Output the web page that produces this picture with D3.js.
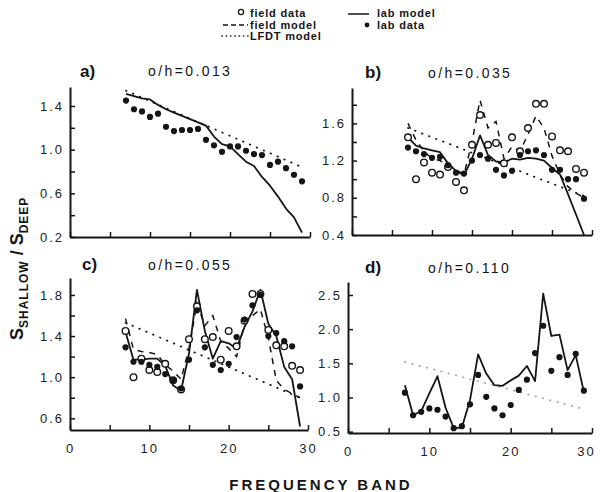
<!DOCTYPE html>
<html>
<head>
<meta charset="utf-8">
<script src="https://cdn.jsdelivr.net/npm/d3@7"></script>
<style>
  body { margin: 0; background: #fff; }
  svg { display: block; font-family: "Liberation Sans", Arial, sans-serif; }
</style>
</head>
<body>
<div id="chart"></div>
<script>
// frequency bands that carry data (same for every panel)
const bands = [7, 8, 9, 10, 11, 12, 13, 14, 15, 16, 17, 18, 19, 20, 21, 22, 23, 24, 25, 26, 27, 28, 29];
const lfdtBands = [7, 29]; // LFDT model is a straight line, keep its end points

// field data is the same measurement set in b) and c)
const fieldData = [1.45, 1.00, 1.18, 1.07, 1.05, 1.13, 0.97, 0.88, 1.37, 1.69, 1.37, 1.39, 1.17, 1.45, 1.30, 1.55, 1.81, 1.81, 1.46, 1.31, 1.30, 1.11, 1.07];

// a) a/h = 0.013
const labDataA  = [1.45, 1.37, 1.35, 1.30, 1.33, 1.21, 1.17, 1.18, 1.18, 1.19, 1.09, 1.04, 0.98, 1.03, 1.03, 0.99, 0.96, 0.95, 0.86, 0.89, 0.83, 0.77, 0.71];
const labModelA = [1.51, 1.49, 1.47, 1.46, 1.41, 1.37, 1.34, 1.31, 1.28, 1.25, 1.22, 1.12, 1.05, 1.03, 0.96, 0.89, 0.85, 0.75, 0.67, 0.57, 0.46, 0.38, 0.24];
const lfdtA     = [1.54, 0.84];

// b) 0.035
const fieldModelB = [1.60, 1.42, 1.30, 1.22, 1.20, 1.15, 1.10, 1.05, 1.40, 1.85, 1.55, 1.62, 1.22, 1.35, 1.30, 1.48, 1.68, 1.55, 1.25, 1.05, 0.92, 0.85, 0.80];
const labModelB   = [1.45, 1.36, 1.33, 1.31, 1.29, 1.17, 1.09, 1.04, 1.22, 1.47, 1.26, 1.19, 1.18, 1.22, 1.21, 1.23, 1.22, 1.20, 1.12, 1.05, 0.84, 0.62, 0.40];
const labDataB    = [1.34, 1.30, 1.27, 1.23, 1.24, 1.15, 1.07, 1.06, 1.20, 1.26, 1.22, 1.10, 1.04, 1.09, 1.26, 1.30, 1.31, 1.26, 1.10, 1.10, 1.00, 1.00, 0.79];
const lfdtB       = [1.55, 0.82];

// c) 0.055
const fieldModelC = [1.57, 1.27, 1.25, 1.24, 1.22, 1.12, 1.06, 0.98, 1.28, 1.72, 1.50, 1.60, 1.35, 1.28, 1.20, 1.52, 1.60, 1.66, 1.38, 0.97, 0.88, 0.84, 0.80];
const labModelC   = [1.44, 1.17, 1.17, 1.18, 1.18, 1.11, 0.92, 0.87, 1.23, 1.85, 1.45, 1.18, 1.35, 1.33, 1.28, 1.49, 1.64, 1.85, 1.52, 1.40, 1.10, 0.98, 0.52];
const labDataC    = [1.29, 1.15, 1.15, 1.12, 1.10, 1.03, 0.97, 0.89, 1.17, 1.65, 1.29, 1.12, 1.07, 1.13, 1.39, 1.56, 1.70, 1.80, 1.40, 1.43, 1.35, 1.30, 0.91];
const lfdtC       = [1.53, 0.80];

// d) 0.110
const labModelD = [1.18, 0.74, 0.80, 1.06, 1.31, 0.85, 0.55, 0.56, 0.96, 1.63, 1.35, 1.18, 1.17, 1.25, 1.32, 1.46, 1.24, 2.52, 1.90, 1.92, 1.40, 1.62, 1.08];
const labDataD  = [1.07, 0.74, 0.79, 0.84, 0.82, 0.72, 0.55, 0.58, 0.90, 1.33, 1.01, 0.84, 0.74, 0.89, 1.11, 1.26, 1.65, 2.05, 1.39, 1.59, 1.33, 1.64, 1.10];
const lfdtD     = [1.52, 0.83];

// ticks
const xTicks = [0, 5, 10, 15, 20, 25, 30];
const xTickLabels = [0, 10, 20, 30];
const yTicksA = [0.2, 0.4, 0.6, 0.8, 1.0, 1.2, 1.4];
const yLabelsA = [0.2, 0.6, 1.0, 1.4];
const yTicksB = [0.4, 0.6, 0.8, 1.0, 1.2, 1.4, 1.6, 1.8];
const yLabelsB = [0.4, 0.8, 1.2, 1.6];
const yTicksC = [0.6, 0.8, 1.0, 1.2, 1.4, 1.6, 1.8];
const yLabelsC = [0.6, 1.0, 1.4, 1.8];
const yTicksD = [0.5, 1.0, 1.5, 2.0, 2.5];
const yLabelsD = [0.5, 1.0, 1.5, 2.0, 2.5];

const W = 600, H = 492;
const ink = "#151515";

const svg = d3.select("#chart").append("svg")
  .attr("width", W).attr("height", H)
  .attr("viewBox", `0 0 ${W} ${H}`);

// panel layout (pixel boxes)
const panels = [
  { id: "a)", ratio: "o/h=0.013", xRange: [70, 310], yRange: [237, 87], yDomain: [0.2, 1.574],
    yTicks: yTicksA, yLabels: yLabelsA, xLabels: false,
    labelPos: [80, 77], ratioPos: [148, 76],
    labModel: labModelA, labData: labDataA, lfdt: lfdtA, lfdtColor: ink },
  { id: "b)", ratio: "o/h=0.035", xRange: [352, 592], yRange: [235, 88], yDomain: [0.4, 1.98],
    yTicks: yTicksB, yLabels: yLabelsB, xLabels: false,
    labelPos: [365, 78], ratioPos: [428, 78],
    fieldModel: fieldModelB, fieldData: fieldData, labModel: labModelB, labData: labDataB, lfdt: lfdtB, lfdtColor: ink },
  { id: "c)", ratio: "o/h=0.055", xRange: [70, 308], yRange: [430, 278], yDomain: [0.486, 1.965],
    yTicks: yTicksC, yLabels: yLabelsC, xLabels: true,
    labelPos: [82, 270], ratioPos: [148, 270],
    fieldModel: fieldModelC, fieldData: fieldData, labModel: labModelC, labData: labDataC, lfdt: lfdtC, lfdtColor: ink },
  { id: "d)", ratio: "o/h=0.110", xRange: [348, 592], yRange: [433, 282], yDomain: [0.48, 2.69],
    yTicks: yTicksD, yLabels: yLabelsD, xLabels: true,
    labelPos: [365, 273], ratioPos: [428, 273],
    labModel: labModelD, labData: labDataD, lfdt: lfdtD, lfdtColor: "#a8a8a8" }
];

function drawPanel(p) {
  const x = d3.scaleLinear().domain([0, 30]).range(p.xRange);
  const y = d3.scaleLinear().domain(p.yDomain).range(p.yRange);
  const g = svg.append("g");

  const has = (list, v) => list.some(t => Math.abs(t - v) < 1e-6);

  // axes, ticks pointing inward
  const yAxis = d3.axisLeft(y).tickValues(p.yTicks).tickSizeInner(-5).tickSizeOuter(0).tickPadding(6)
    .tickFormat(v => has(p.yLabels, v) ? d3.format(".1f")(v) : "");
  const xAxis = d3.axisBottom(x).tickValues(xTicks).tickSizeInner(-5).tickSizeOuter(0).tickPadding(14)
    .tickFormat(v => p.xLabels && xTickLabels.includes(v) ? String(v) : "");

  const ya = g.append("g").attr("transform", `translate(${p.xRange[0]},0)`).call(yAxis);
  const xa = g.append("g").attr("transform", `translate(0,${p.yRange[0]})`).call(xAxis);
  [ya, xa].forEach(a => {
    a.select(".domain").attr("stroke", ink).attr("stroke-width", 2);
    a.selectAll(".tick line").attr("stroke", ink).attr("stroke-width", 1.5);
    a.selectAll(".tick text").attr("fill", "#222").style("font-size", "13px").style("letter-spacing", "2px");
  });
  // keep the last label of the right panel inside the page
  if (p.xRange[1] > 580) {
    xa.selectAll(".tick text").filter(v => v === 30).attr("dx", -6);
  }

  const line = d3.line().x((d, i) => x(bands[i])).y(d => y(d));

  // LFDT model (dotted)
  g.append("path")
    .datum(p.lfdt)
    .attr("d", d3.line().x((d, i) => x(lfdtBands[i])).y(d => y(d)))
    .attr("fill", "none").attr("stroke", p.lfdtColor).attr("stroke-width", 1.8)
    .attr("stroke-linecap", "round").attr("stroke-dasharray", "0.5 7");

  // field model (dashed)
  if (p.fieldModel) {
    g.append("path").datum(p.fieldModel).attr("d", line)
      .attr("fill", "none").attr("stroke", ink).attr("stroke-width", 1.5)
      .attr("stroke-dasharray", "6 6");
  }

  // lab model (solid)
  g.append("path").datum(p.labModel).attr("d", line)
    .attr("fill", "none").attr("stroke", ink).attr("stroke-width", 1.8)
    .attr("stroke-linejoin", "round");

  // field data (open circles)
  if (p.fieldData) {
    g.selectAll(".field").data(p.fieldData).join("circle")
      .attr("class", "field")
      .attr("cx", (d, i) => x(bands[i])).attr("cy", d => y(d)).attr("r", 3.3)
      .attr("fill", "#fff").attr("stroke", ink).attr("stroke-width", 1.4);
  }

  // lab data (filled dots)
  g.selectAll(".lab").data(p.labData).join("circle")
    .attr("class", "lab")
    .attr("cx", (d, i) => x(bands[i])).attr("cy", d => y(d)).attr("r", 3.1)
    .attr("fill", ink);

  // panel letter and ratio
  g.append("text").attr("x", p.labelPos[0]).attr("y", p.labelPos[1])
    .attr("fill", ink).style("font-size", "17px").style("font-weight", "bold")
    .text(p.id);
  g.append("text").attr("x", p.ratioPos[0]).attr("y", p.ratioPos[1])
    .attr("fill", ink).style("font-size", "14px").style("letter-spacing", "2.4px")
    .text(p.ratio);
}

panels.forEach(drawPanel);

// legend
const legend = svg.append("g").style("font-size", "11px").style("font-weight", "bold")
  .style("letter-spacing", "0.8px").attr("fill", ink);
legend.append("circle").attr("cx", 241).attr("cy", 12).attr("r", 2.6)
  .attr("fill", "#fff").attr("stroke", ink).attr("stroke-width", 1.3);
legend.append("text").attr("x", 250).attr("y", 17).text("field data");
legend.append("line").attr("x1", 223).attr("x2", 248).attr("y1", 25).attr("y2", 25)
  .attr("stroke", ink).attr("stroke-width", 1.5).attr("stroke-dasharray", "5 3");
legend.append("text").attr("x", 250).attr("y", 29).text("field model");
legend.append("line").attr("x1", 222).attr("x2", 248).attr("y1", 36).attr("y2", 36)
  .attr("stroke", ink).attr("stroke-width", 1.6).attr("stroke-linecap", "round").attr("stroke-dasharray", "0.3 4");
legend.append("text").attr("x", 250).attr("y", 40).text("LFDT model");
legend.append("line").attr("x1", 348).attr("x2", 369).attr("y1", 14).attr("y2", 14)
  .attr("stroke", ink).attr("stroke-width", 1.5);
legend.append("text").attr("x", 377).attr("y", 17).text("lab model");
legend.append("circle").attr("cx", 367).attr("cy", 25).attr("r", 2.4).attr("fill", ink);
legend.append("text").attr("x", 377).attr("y", 29).text("lab data");

// axis titles
svg.append("text")
  .attr("x", 321).attr("y", 490)
  .attr("text-anchor", "middle").attr("fill", ink)
  .style("font-size", "15px").style("font-weight", "bold").style("letter-spacing", "3px")
  .text("FREQUENCY BAND");

const yTitle = svg.append("text")
  .attr("transform", "translate(23,340) rotate(-90)")
  .attr("fill", ink).style("font-weight", "bold");
yTitle.append("tspan").style("font-size", "18px").text("S");
yTitle.append("tspan").attr("dy", 5).style("font-size", "12px").style("letter-spacing", "1px").text("SHALLOW");
yTitle.append("tspan").attr("dy", -5).style("font-size", "18px").text(" / S");
yTitle.append("tspan").attr("dy", 5).style("font-size", "12px").style("letter-spacing", "1px").text("DEEP");
</script>
</body>
</html>
